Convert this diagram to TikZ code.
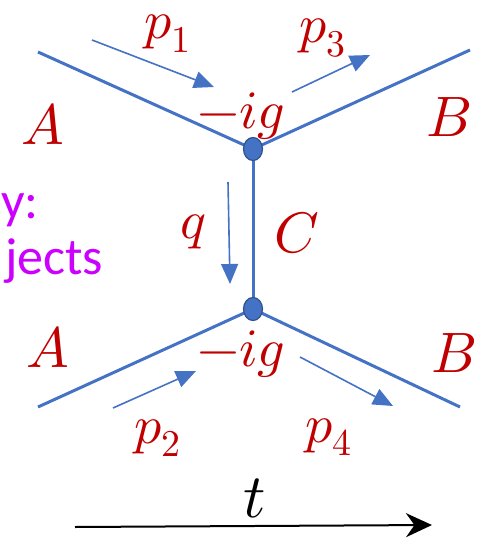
\documentclass[tikz,border=0pt]{standalone}
\usepackage{unicode-math}
\setmathfont{Latin Modern Math}
\newfontfamily\calib{Carlito}
\usetikzlibrary{arrows.meta,shapes.geometric}
\definecolor{lblue}{RGB}{68,114,196}
\definecolor{dblue}{RGB}{47,82,143}
\definecolor{dred}{RGB}{192,0,0}
\definecolor{mag}{RGB}{204,0,255}
\begin{document}
\begin{tikzpicture}[x=1pt,y=-1pt,
  prop/.style={draw=lblue,line width=3pt},
  vtx/.style={ellipse,draw=dblue,fill=lblue,line width=1.2pt,minimum width=19pt,minimum height=23pt,inner sep=0pt},
  mom/.style={draw=lblue,line width=1.6pt,-{Triangle[length=20pt,width=17pt]}},
  lbl/.style={text=dred,font=\fontsize{54}{60}\selectfont,inner sep=0pt,anchor=base},
  biglbl/.style={lbl,font=\fontsize{57}{62}\selectfont},
  side/.style={text=mag,font=\calib\fontsize{52}{58}\selectfont,inner sep=0pt,anchor=base west}]
\useasboundingbox (0,0) rectangle (487,548);
% external points
\coordinate (tl) at (38,52);
\coordinate (tr) at (470,50);
\coordinate (bl) at (38,407);
\coordinate (br) at (460,407);
\coordinate (v1c) at (253,149);
\coordinate (v2c) at (253,309);
% lines
\draw[prop] (tl) -- (v1c) -- (tr);
\draw[prop] (bl) -- (v2c) -- (br);
\draw[prop] (v1c) -- (v2c);
\node[vtx] (v1) at (v1c) {};
\node[vtx] (v2) at (v2c) {};
% momentum arrows
\coordinate (p1s) at (92,40);  \coordinate (p1e) at (214,87);
\coordinate (p3s) at (292,92); \coordinate (p3e) at (370,55);
\coordinate (qs) at (228,182); \coordinate (qe) at (230,284);
\coordinate (p2s) at (113,408);\coordinate (p2e) at (196,371);
\coordinate (p4s) at (300,357);\coordinate (p4e) at (393,406);
\draw[mom] (p1s) -- (p1e);
\draw[mom] (p3s) -- (p3e);
\draw[mom] (qs) -- (qe);
\draw[mom] (p2s) -- (p2e);
\draw[mom] (p4s) -- (p4e);
% labels
\node[lbl,anchor=base west] (lp1) at (144,39) {$p_1$};
\node[lbl,anchor=base west] (lp3) at (299,43) {$p_3$};
\node[biglbl] (lA1) at (43,145) {$A$};
\node[biglbl] (lB1) at (449,137) {$B$};
\node[lbl] (lg1) at (241,129) {$-ig$};
\node[lbl] (lq) at (193,238) {$q$};
\node[biglbl] (lC) at (297,252) {$C$};
\node[biglbl] (lA2) at (48,367) {$A$};
\node[biglbl] (lB2) at (454,372) {$B$};
\node[lbl] (lg2) at (241,366) {$-ig$};
\node[lbl,anchor=base west] (lp2) at (134,443) {$p_2$};
\node[lbl,anchor=base west] (lp4) at (305,442) {$p_4$};
% side text
\node[side] (s1) at (1,218) {y:};
\node[side] (s2) at (5,274) {jects};
% time arrow
\coordinate (ts) at (75,527);
\coordinate (te) at (432,525);
\draw[line width=2pt,-{Stealth[length=26pt,width=24pt]}] (ts) -- (te);
\node[text=black,font=\fontsize{62}{66}\selectfont,inner sep=0pt,anchor=base] (lt) at (255,517) {$t$};
\end{tikzpicture}
\end{document}
